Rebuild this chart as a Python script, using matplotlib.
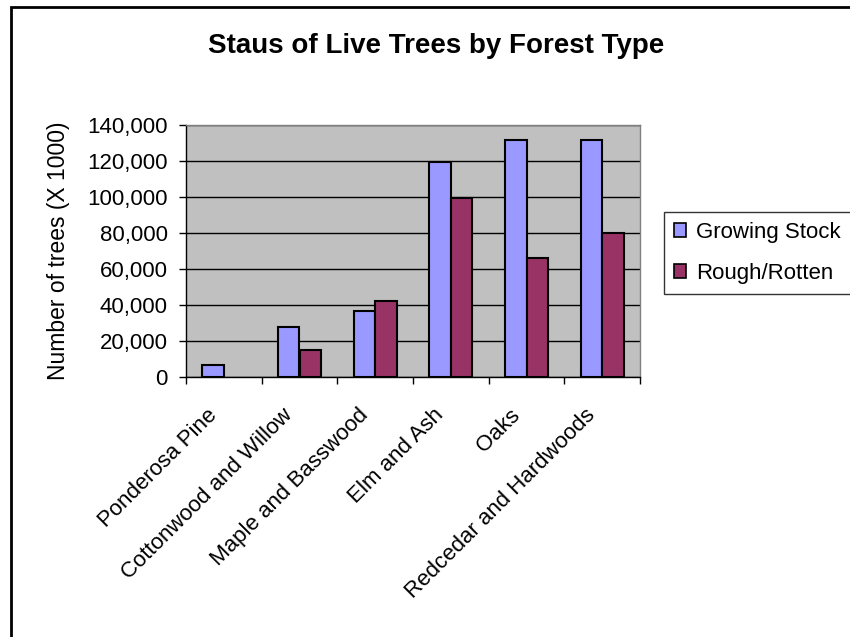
import matplotlib
matplotlib.use("Agg")
import matplotlib.pyplot as plt
from matplotlib.patches import Patch, Rectangle
from matplotlib.ticker import FuncFormatter, FixedLocator
from matplotlib.transforms import ScaledTranslation
import numpy as np

categories = ["Ponderosa Pine", "Cottonwood and Willow", "Maple and Basswood",
              "Elm and Ash", "Oaks", "Redcedar and Hardwoods"]
growing_stock = [6500, 28000, 36500, 119500, 131500, 131500]
rough_rotten = [np.nan, 15200, 42200, 99500, 66000, 80200]
series_names = ["Growing Stock", "Rough/Rotten"]
title = "Staus of Live Trees by Forest Type"
ylabel = "Number of trees (X 1000)"

plt.rcParams['font.family'] = ['Liberation Sans', 'DejaVu Sans']

W, H = 850, 637
fig = plt.figure(figsize=(W / 100, H / 100), dpi=100)
fig.patch.set_facecolor("white")

# outer chart border
fig.patches.append(Rectangle((11 / W, -0.1), 1.2, 1 - 7 / H + 0.1, transform=fig.transFigure,
                             fill=False, edgecolor="black", linewidth=2))

left, right, top, bottom = 186, 640, 125, 377
ax = fig.add_axes([left / W, 1 - bottom / H, (right - left) / W, (bottom - top) / H])
ax.set_facecolor("#C0C0C0")

x = np.arange(len(categories))
w = 1 / 3.5
ax.bar(x - w / 2, growing_stock, w, color="#9999FF", edgecolor="black", linewidth=1.5, zorder=3)
ax.bar(x + w / 2, rough_rotten, w, color="#993366", edgecolor="black", linewidth=1.5, zorder=3)

ax.set_xlim(-0.5, len(categories) - 0.5)
ax.set_ylim(0, 140000)
ax.set_yticks(np.arange(0, 140001, 20000))
ax.yaxis.set_major_formatter(FuncFormatter(lambda v, p: f"{int(v):,}"))
ax.yaxis.grid(True, color="black", linewidth=1, zorder=1)
ax.set_axisbelow(True)

ax.set_xticks(x)
ax.set_xticklabels([""] * len(categories))
label_tr = ax.get_xaxis_transform() + ScaledTranslation(-10 / 100, -35 / 100, fig.dpi_scale_trans)
for xi, name in zip(x, categories):
    ax.text(xi, 0, name, transform=label_tr, rotation=45, ha="right", va="center",
            rotation_mode="anchor", fontsize=16, clip_on=False)
ax.xaxis.set_minor_locator(FixedLocator(np.arange(-0.5, len(categories), 1.0)))
ax.tick_params(axis="x", which="major", length=0)
ax.tick_params(axis="x", which="minor", length=5, width=1, color="black", direction="out")
ax.tick_params(axis="y", length=5, width=1, color="black", direction="out", labelsize=16, pad=8)

for s in ["top", "right"]:
    ax.spines[s].set_color("#808080")
    ax.spines[s].set_linewidth(1)
for s in ["left", "bottom"]:
    ax.spines[s].set_color("black")
    ax.spines[s].set_linewidth(1)

fig.text(58 / W, 1 - 251 / H, ylabel, rotation=90, ha="center", va="center", fontsize=16.5)
fig.text(436 / W, 1 - 46 / H, title, ha="center", va="center", fontsize=20, fontweight="bold")

handles = [Patch(facecolor="#9999FF", edgecolor="black", linewidth=1.2),
           Patch(facecolor="#993366", edgecolor="black", linewidth=1.2)]
leg = fig.legend(handles, series_names, loc="upper left",
                 bbox_to_anchor=(664 / W, 1 - 212 / H), bbox_transform=fig.transFigure,
                 fontsize=16, frameon=True, fancybox=False, edgecolor="black",
                 handlelength=0.55, handleheight=0.55, handletextpad=0.45,
                 labelspacing=0.9, borderpad=0.45, borderaxespad=0)
leg.get_frame().set_linewidth(1)

fig.savefig("out.png", dpi=100, facecolor="white")
